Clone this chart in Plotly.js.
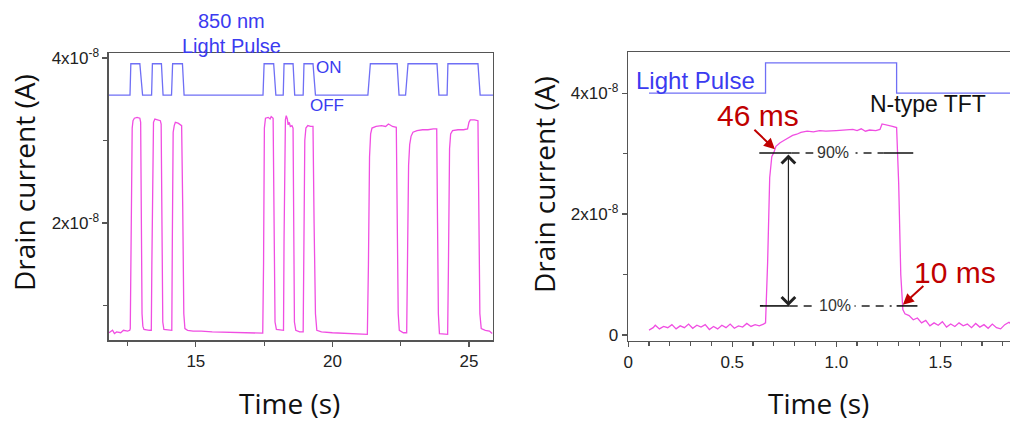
<!DOCTYPE html>
<html><head><meta charset="utf-8">
<script src="https://cdn.plot.ly/plotly-3.0.1.min.js"></script>
<style>html,body{margin:0;padding:0;background:#fff}#chart{width:1010px;height:423px}</style>
</head><body><div id="chart"></div>
<script>
const UNIT = 1e-8;

// ---------- Left panel: 850 nm light pulse train ----------
const leftPulseTime = [11.82, 12.59, 12.62, 12.95, 13.05, 13.38, 13.41, 13.74, 13.80, 14.11, 14.15, 14.51, 14.57,
  17.46, 17.50, 17.85, 17.93, 18.20, 18.23, 18.56, 18.62, 18.93, 18.96, 19.29, 19.38,
  21.30, 21.39, 22.37, 22.44, 22.68, 22.77, 23.83, 23.90, 24.20, 24.23, 25.33, 25.41, 25.88];
const leftPulseLevel = [3.55, 3.55, 3.93, 3.93, 3.55, 3.55, 3.93, 3.93, 3.55, 3.55, 3.93, 3.93, 3.55,
  3.55, 3.93, 3.93, 3.55, 3.55, 3.93, 3.93, 3.55, 3.55, 3.93, 3.93, 3.55,
  3.55, 3.93, 3.93, 3.55, 3.55, 3.93, 3.93, 3.55, 3.55, 3.93, 3.93, 3.55, 3.55];

const leftCurrentTime = [11.82, 11.90, 11.95, 12.02, 12.10, 12.25, 12.35, 12.50, 12.58,
  12.60, 12.64, 12.67, 12.70, 12.75, 12.85, 12.95, 12.98, 13.00, 13.03, 13.06, 13.10, 13.30, 13.37,
  13.39, 13.42, 13.45, 13.50, 13.60, 13.70, 13.73, 13.76, 13.79, 13.83, 14.00, 14.12,
  14.14, 14.17, 14.21, 14.25, 14.35, 14.42, 14.48, 14.52, 14.56, 14.60, 14.70, 14.90,
  15.20, 15.60, 16.00, 16.50, 17.00, 17.45,
  17.48, 17.51, 17.55, 17.65, 17.72, 17.76, 17.83, 17.86, 17.90, 17.95, 18.10, 18.21,
  18.23, 18.26, 18.28, 18.31, 18.35, 18.38, 18.42, 18.46, 18.52, 18.56, 18.58, 18.61, 18.66, 18.80, 18.93,
  18.96, 18.99, 19.03, 19.10, 19.20, 19.29, 19.33, 19.38, 19.43, 19.60, 20.00, 20.50, 21.00, 21.28,
  21.32, 21.36, 21.40, 21.45, 21.60, 21.80, 21.95, 22.05, 22.10, 22.20, 22.34, 22.37, 22.41, 22.45, 22.60, 22.72,
  22.75, 22.79, 22.83, 22.88, 22.95, 23.10, 23.30, 23.50, 23.70, 23.82, 23.85, 23.88, 23.92, 24.10, 24.22,
  24.25, 24.29, 24.33, 24.40, 24.60, 24.80, 24.95, 25.00, 25.05, 25.20, 25.33, 25.36, 25.40, 25.45, 25.60, 25.75, 25.85];
const leftCurrent = [0.67, 0.69, 0.70, 0.66, 0.68, 0.67, 0.70, 0.69, 0.70,
  0.72, 2.50, 3.15, 3.24, 3.27, 3.28, 3.27, 3.22, 2.00, 0.90, 0.75, 0.71, 0.70, 0.70,
  1.50, 3.05, 3.22, 3.26, 3.25, 3.24, 3.20, 1.50, 0.80, 0.71, 0.70, 0.70,
  1.80, 3.10, 3.18, 3.22, 3.21, 3.19, 3.18, 2.20, 0.90, 0.72, 0.70, 0.69,
  0.69, 0.68, 0.675, 0.67, 0.665, 0.665,
  1.50, 3.15, 3.27, 3.28, 3.26, 3.29, 3.27, 1.80, 0.80, 0.71, 0.70, 0.70,
  1.80, 3.10, 3.25, 3.30, 3.26, 3.19, 3.22, 3.17, 3.18, 3.15, 1.50, 0.80, 0.70, 0.68, 0.68,
  1.50, 3.00, 3.15, 3.18, 3.17, 3.17, 2.00, 0.90, 0.70, 0.68, 0.67, 0.66, 0.65, 0.65,
  1.50, 2.80, 3.08, 3.15, 3.17, 3.18, 3.17, 3.20, 3.19, 3.17, 3.16, 2.00, 0.90, 0.70, 0.67, 0.67,
  1.50, 2.70, 2.95, 3.05, 3.10, 3.12, 3.13, 3.13, 3.14, 3.14, 2.00, 0.90, 0.66, 0.65, 0.65,
  1.50, 2.90, 3.08, 3.12, 3.13, 3.13, 3.14, 3.22, 3.25, 3.25, 3.24, 2.00, 0.90, 0.72, 0.70, 0.69, 0.66];

// ---------- Right panel: single pulse, N-type TFT ----------
const rightPulseTime = [0.10, 0.66, 0.66, 1.29, 1.29, 1.85];
const rightPulseLevel = [4.0, 4.0, 4.5, 4.5, 4.0, 4.0];

const rightCurrentTime = [0.10, 0.12, 0.13, 0.15, 0.17, 0.19, 0.21, 0.23, 0.25, 0.27, 0.29, 0.31, 0.33, 0.35, 0.37,
  0.39, 0.41, 0.43, 0.45, 0.47, 0.49, 0.51, 0.53, 0.55, 0.57, 0.59, 0.61, 0.63, 0.65, 0.66,
  0.67, 0.68, 0.69, 0.70, 0.71, 0.73, 0.75, 0.77, 0.79, 0.81, 0.83, 0.86, 0.89, 0.92, 0.95, 1.00,
  1.05, 1.08, 1.10, 1.12, 1.14, 1.16, 1.19, 1.21, 1.22, 1.25, 1.27, 1.29, 1.30, 1.31, 1.32, 1.33,
  1.35, 1.37, 1.39, 1.41, 1.43, 1.45, 1.47, 1.49, 1.51, 1.53, 1.55, 1.57, 1.59, 1.61, 1.63, 1.65,
  1.67, 1.69, 1.71, 1.73, 1.75, 1.77, 1.79, 1.81, 1.83, 1.85];
const rightCurrent = [0.08, 0.12, 0.16, 0.10, 0.14, 0.12, 0.17, 0.10, 0.15, 0.12, 0.18, 0.11, 0.16, 0.13, 0.17,
  0.09, 0.14, 0.10, 0.16, 0.12, 0.18, 0.11, 0.15, 0.13, 0.19, 0.14, 0.17, 0.15, 0.18, 0.20,
  1.20, 2.60, 2.95, 3.02, 3.12, 3.18, 3.22, 3.26, 3.30, 3.32, 3.35, 3.37, 3.36, 3.38, 3.37, 3.38,
  3.39, 3.40, 3.38, 3.41, 3.37, 3.39, 3.38, 3.40, 3.49, 3.47, 3.45, 3.43, 2.50, 1.00, 0.42, 0.35,
  0.32, 0.25, 0.28, 0.20, 0.24, 0.15, 0.20, 0.16, 0.22, 0.13, 0.18, 0.14, 0.20, 0.15, 0.18, 0.12,
  0.19, 0.13, 0.17, 0.11, 0.18, 0.12, 0.10, 0.17, 0.21, 0.15];

const level90 = 3.01, level10 = 0.48;
const mark90Time = [0.63, 0.785, 1.226, 1.37];
const mark10Time = [0.633, 0.776, 1.29, 1.39];
const spanArrowTime = 0.77;
const riseTip = [0.705, 3.07], fallTip = [1.32, 0.50];

const tickValsY = [0, 2, 4];
const tickTextY = ['0', '2x10<sup>-8</sup>', '4x10<sup>-8</sup>'];

// ---------- styling ----------
const PINK = '#f04ee2', BLUE = '#6f6ff5', TEXTBLUE = '#3b3bf0', RED = '#c00000', AX = '#555';
const tickFont = {family: 'Liberation Sans, Arial, sans-serif', size: 17, color: '#222'};
const titleFont = {family: 'Open Sans, sans-serif', size: 28, color: '#111'};
const sc = a => a.map(v => v * UNIT);

const traces = [
  {x: leftPulseTime, y: sc(leftPulseLevel), xaxis: 'x', yaxis: 'y', mode: 'lines',
   line: {color: BLUE, width: 1.3}, hoverinfo: 'skip'},
  {x: leftCurrentTime, y: sc(leftCurrent), xaxis: 'x', yaxis: 'y', mode: 'lines',
   line: {color: PINK, width: 1.3}, hoverinfo: 'skip'},
  {x: rightPulseTime, y: sc(rightPulseLevel), xaxis: 'x2', yaxis: 'y2', mode: 'lines',
   line: {color: BLUE, width: 1.3}, hoverinfo: 'skip'},
  {x: rightCurrentTime, y: sc(rightCurrent), xaxis: 'x2', yaxis: 'y2', mode: 'lines',
   line: {color: PINK, width: 1.3}, hoverinfo: 'skip'}
];

const axisCommon = {showgrid: false, zeroline: false, showline: true, linecolor: AX, linewidth: 1.5,
  ticks: 'outside', ticklen: 5, tickcolor: AX, tickwidth: 1.2, tickfont: tickFont};

const layout = {
  width: 1010, height: 423, margin: {l: 0, r: 0, t: 0, b: 0},
  paper_bgcolor: '#fff', plot_bgcolor: '#fff', showlegend: false,
  xaxis: Object.assign({}, axisCommon, {domain: [0.1079, 0.4881], range: [11.82, 25.88], mirror: true,
    tickmode: 'array', tickvals: [15, 20, 25], ticktext: ['15', '20', '25'],
    minor: {tickmode: 'array', tickvals: [12.5, 17.5, 22.5], ticklen: 4, tickcolor: AX, ticks: 'outside'}}),
  yaxis: Object.assign({}, axisCommon, {domain: [0.1962, 0.8747], range: [0.582 * UNIT, 4.06 * UNIT], mirror: true,
    tickmode: 'array', tickvals: sc(tickValsY), ticktext: tickTextY,
    minor: {tickmode: 'array', tickvals: sc([1, 3]), ticklen: 4, tickcolor: AX, ticks: 'outside'}}),
  xaxis2: Object.assign({}, axisCommon, {domain: [0.622, 1.0], range: [0, 1.835], mirror: true, anchor: 'y2',
    tickmode: 'array', tickvals: [0, 0.5, 1.0, 1.5], ticktext: ['0', '0.5', '1.0', '1.5'],
    minor: {dtick: 0.1, tick0: 0, ticklen: 4, tickcolor: AX, ticks: 'outside'}}),
  yaxis2: Object.assign({}, axisCommon, {domain: [0.1939, 0.877], range: [-0.1 * UNIT, 4.68 * UNIT], mirror: false, anchor: 'x2',
    tickmode: 'array', tickvals: sc(tickValsY), ticktext: tickTextY,
    minor: {tickmode: 'array', tickvals: sc([1, 3]), ticklen: 4, tickcolor: AX, ticks: 'outside'}}),
  shapes: [],
  annotations: []
};

// 90% / 10% marker lines
function markLines(times, level) {
  const y = level * UNIT;
  layout.shapes.push({type: 'line', xref: 'x2', yref: 'y2', x0: times[0], x1: times[1], y0: y, y1: y, line: {color: '#111', width: 1.6}});
  layout.shapes.push({type: 'line', xref: 'x2', yref: 'y2', x0: times[1], x1: times[2], y0: y, y1: y, line: {color: '#222', width: 1.5, dash: '8px,6px,8px,6px,2px,6px'}});
  layout.shapes.push({type: 'line', xref: 'x2', yref: 'y2', x0: times[2], x1: times[3], y0: y, y1: y, line: {color: '#111', width: 1.6}});
}
markLines(mark90Time, level90);
markLines(mark10Time, level10);

const ann = layout.annotations;
const pctFont = {family: 'Liberation Sans, Arial, sans-serif', size: 16, color: '#333'};
ann.push({xref: 'x2', yref: 'y2', x: 0.986, y: level90 * UNIT, text: '90%', showarrow: false, font: pctFont, bgcolor: '#fff', borderpad: 3});
ann.push({xref: 'x2', yref: 'y2', x: 0.994, y: level10 * UNIT, text: '10%', showarrow: false, font: pctFont, bgcolor: '#fff', borderpad: 3});

// double arrow between 10% and 90%
ann.push({xref: 'x2', yref: 'y2', axref: 'x2', ayref: 'y2', x: spanArrowTime, y: level10 * UNIT, ax: spanArrowTime, ay: level90 * UNIT,
  text: '', showarrow: true, arrowside: 'end+start', arrowhead: 4, startarrowhead: 4, arrowsize: 2.2, startarrowsize: 2.2,
  arrowwidth: 1.2, arrowcolor: '#222', standoff: 0, startstandoff: 0});

// rise / fall time arrows
ann.push({xref: 'x2', yref: 'y2', x: riseTip[0], y: riseTip[1] * UNIT, ax: -22, ay: -21, text: '', showarrow: true,
  arrowhead: 2, arrowsize: 1.1, arrowwidth: 2, arrowcolor: RED});
ann.push({xref: 'x2', yref: 'y2', x: fallTip[0], y: fallTip[1] * UNIT, ax: 22, ay: -20, text: '', showarrow: true,
  arrowhead: 2, arrowsize: 1.1, arrowwidth: 2, arrowcolor: RED});

const px = (x, y) => ({xref: 'paper', yref: 'paper', x: x / 1010, y: 1 - y / 423, xanchor: 'center', yanchor: 'middle', showarrow: false});
const bigRed = {family: 'Liberation Sans, Arial, sans-serif', size: 30, color: RED};
ann.push(Object.assign(px(758, 115), {text: '46 ms', font: bigRed}));
ann.push(Object.assign(px(955, 272), {text: '10 ms', font: bigRed}));
ann.push(Object.assign(px(928, 104), {text: 'N-type TFT', font: {family: 'Liberation Sans, Arial, sans-serif', size: 23, color: '#111'}}));
ann.push(Object.assign(px(695, 80), {text: 'Light Pulse', font: {family: 'Liberation Sans, Arial, sans-serif', size: 24, color: TEXTBLUE}}));

// left panel labels
const lpFont = {family: 'Liberation Sans, Arial, sans-serif', size: 20, color: TEXTBLUE};
ann.push(Object.assign(px(231, 21), {text: '850 nm', font: lpFont}));
ann.push(Object.assign(px(231, 46), {text: 'Light Pulse', font: lpFont}));
const onoffFont = {family: 'Liberation Sans, Arial, sans-serif', size: 17, color: TEXTBLUE};
ann.push(Object.assign(px(329, 67), {text: 'ON', font: onoffFont}));
ann.push(Object.assign(px(327, 106), {text: 'OFF', font: onoffFont}));

// axis titles
ann.push(Object.assign(px(24, 183), {text: 'Drain current (A)', textangle: -90, font: titleFont}));
ann.push(Object.assign(px(544, 185), {text: 'Drain current (A)', textangle: -90, font: titleFont}));
ann.push(Object.assign(px(289, 403), {text: 'Time (s)', font: titleFont}));
ann.push(Object.assign(px(818, 403), {text: 'Time (s)', font: titleFont}));

Plotly.newPlot('chart', traces, layout, {staticPlot: true, displayModeBar: false});
</script>
</body></html>
